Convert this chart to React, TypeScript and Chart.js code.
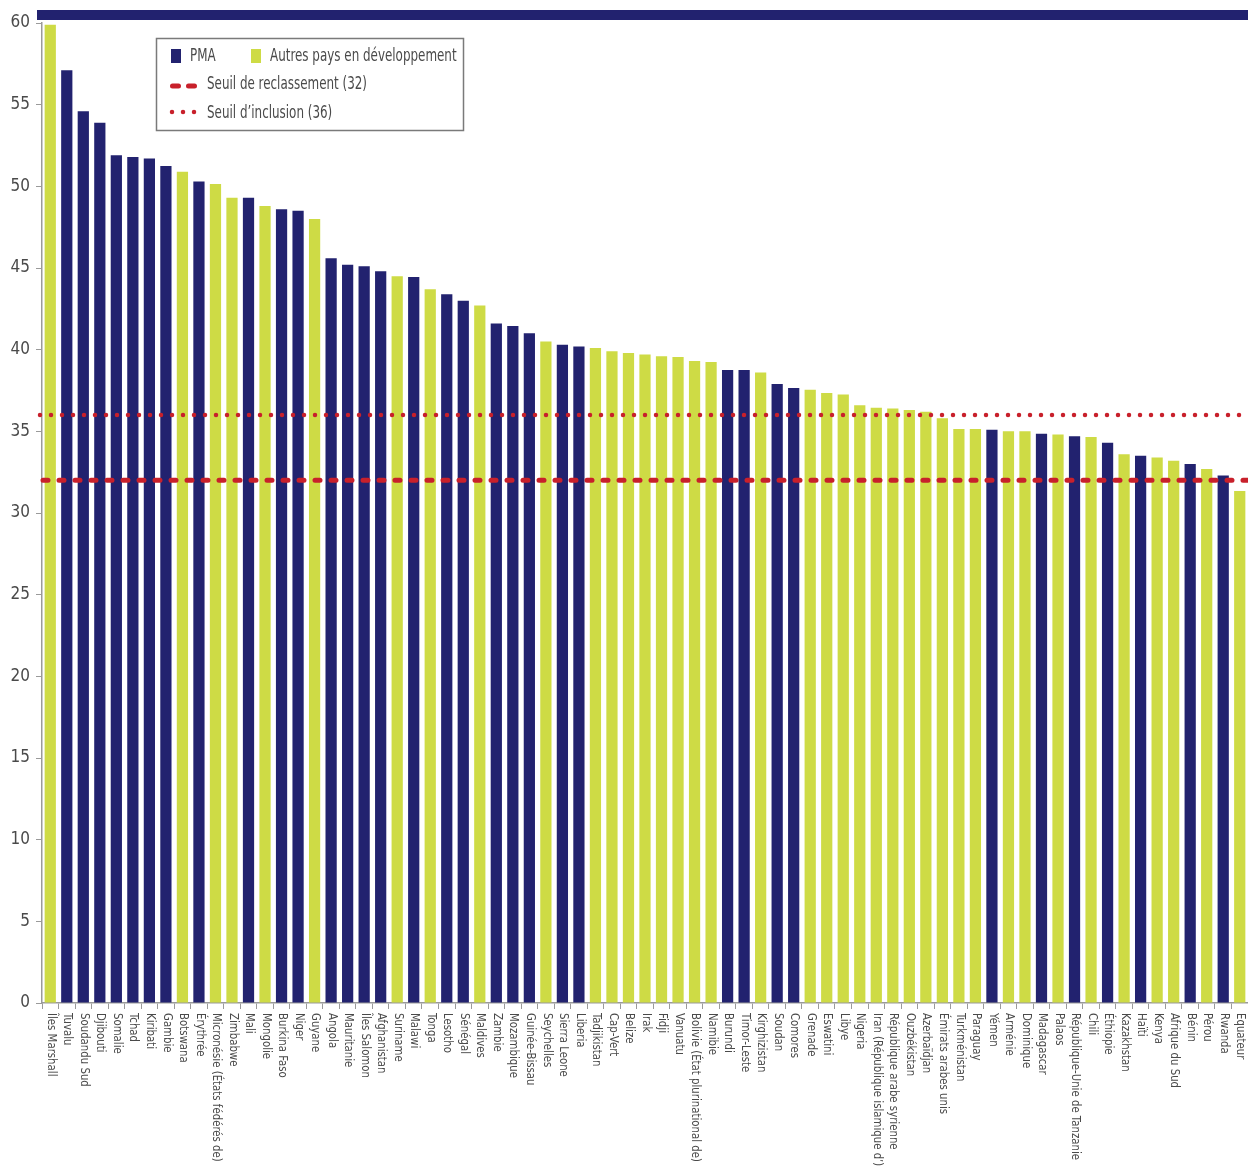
import React, { useEffect, useRef } from "react";
import { Chart, registerables } from "chart.js";

Chart.register(...registerables);

const countries: string[] = [
  "Îles Marshall", "Tuvalu", "Soudandu Sud", "Djibouti", "Somalie", "Tchad", "Kiribati", "Gambie",
  "Botswana", "Érythrée", "Micronésie (États fédérés de)", "Zimbabwe", "Mali", "Mongolie",
  "Burkina Faso", "Niger", "Guyane", "Angola", "Mauritanie", "Îles Salomon", "Afghanistan",
  "Suriname", "Malawi", "Tonga", "Lesotho", "Sénégal", "Maldives", "Zambie", "Mozambique",
  "Guinée-Bissau", "Seychelles", "Sierra Leone", "Liberia", "Tadjikistan", "Cap-Vert", "Belize",
  "Irak", "Fidji", "Vanuatu", "Bolivie (État plurinational de)", "Namibie", "Burundi",
  "Timor-Leste", "Kirghizistan", "Soudan", "Comores", "Grenade", "Eswatini", "Libye", "Nigeria",
  "Iran (République islamique d’)", "République arabe syrienne", "Ouzbékistan", "Azerbaïdjan",
  "Émirats arabes unis", "Turkménistan", "Paraguay", "Yémen", "Arménie", "Dominique",
  "Madagascar", "Palaos", "République-Unie de Tanzanie", "Chili", "Éthiopie", "Kazakhstan",
  "Haïti", "Kenya", "Afrique du Sud", "Bénin", "Pérou", "Rwanda", "Equateur",
];

const scores: number[] = [
  59.9, 57.1, 54.6, 53.9, 51.9, 51.8, 51.7, 51.25, 50.9, 50.3, 50.15, 49.3, 49.3, 48.8,
  48.6, 48.5, 48.0, 45.6, 45.2, 45.1, 44.8, 44.5, 44.45, 43.7, 43.4, 43.0, 42.7, 41.6, 41.45,
  41.0, 40.5, 40.3, 40.2, 40.1, 39.9, 39.8, 39.7, 39.6, 39.55, 39.3, 39.25, 38.75, 38.75, 38.6,
  37.9, 37.65, 37.55, 37.35, 37.25, 36.6, 36.45, 36.4, 36.3, 36.2, 35.8, 35.15, 35.15, 35.1,
  35.0, 35.0, 34.85, 34.8, 34.7, 34.65, 34.3, 33.6, 33.5, 33.4, 33.2, 33.0, 32.7, 32.3, 31.35,
];

// "P" = PMA, "A" = Autres pays en développement
const groups: string[] = [
  "A", "P", "P", "P", "P", "P", "P", "P", "A", "P", "A", "A", "P", "A",
  "P", "P", "A", "P", "P", "P", "P", "A", "P", "A", "P", "P", "A", "P", "P",
  "P", "A", "P", "P", "A", "A", "A", "A", "A", "A", "A", "A", "P", "P", "A",
  "P", "P", "A", "A", "A", "A", "A", "A", "A", "A", "A", "A", "A", "P",
  "A", "A", "P", "A", "P", "A", "P", "A", "P", "A", "A", "P", "A", "P", "A",
];

const yTicks: number[] = [0, 5, 10, 15, 20, 25, 30, 35, 40, 45, 50, 55, 60];
const graduationThreshold = 32;
const inclusionThreshold = 36;

const legendLabels = {
  pma: "PMA",
  others: "Autres pays en développement",
  graduation: "Seuil de reclassement (32)",
  inclusion: "Seuil d’inclusion (36)",
};

const NAVY = "#22226F";
const LIME = "#CEDB45";
const RED = "#C8202B";
const TEXT = "#4a4a4a";
const FONT = '"DejaVu Sans Condensed", "Liberation Sans Narrow", sans-serif';

function condensedText(ctx: CanvasRenderingContext2D, text: string, x: number, y: number, sx: number) {
  ctx.save();
  ctx.translate(x, y);
  ctx.scale(sx, 1);
  ctx.fillText(text, 0, 0);
  ctx.restore();
}

const overlayPlugin = {
  id: "overlay",
  beforeDraw(chart: any) {
    const { ctx, chartArea } = chart;
    ctx.save();
    ctx.fillStyle = NAVY;
    ctx.fillRect(chartArea.left - 5, chartArea.top - 13, chartArea.right - chartArea.left + 5, 10);
    ctx.restore();
  },
  afterDatasetsDraw(chart: any) {
    const { ctx, chartArea, scales } = chart;
    const y = scales.y;
    ctx.save();
    ctx.strokeStyle = RED;
    ctx.lineCap = "round";
    ctx.lineWidth = 4.5;
    ctx.setLineDash([0.01, 10.99]);
    const yi = y.getPixelForValue(inclusionThreshold);
    ctx.beginPath();
    ctx.moveTo(chartArea.left - 2, yi);
    ctx.lineTo(chartArea.right, yi);
    ctx.stroke();
    ctx.lineWidth = 5;
    ctx.setLineDash([5, 11]);
    const yg = y.getPixelForValue(graduationThreshold);
    ctx.beginPath();
    ctx.moveTo(chartArea.left + 1, yg);
    ctx.lineTo(chartArea.right, yg);
    ctx.stroke();
    ctx.restore();
  },
  afterDraw(chart: any) {
    const { ctx, chartArea, scales } = chart;
    const x = scales.x;
    ctx.save();
    ctx.font = `13px ${FONT}`;
    ctx.fillStyle = TEXT;
    ctx.textAlign = "left";
    ctx.textBaseline = "middle";
    countries.forEach((c, i) => {
      const px = x.getPixelForValue(i);
      ctx.save();
      ctx.translate(px + 1, chartArea.bottom + 10);
      ctx.rotate(Math.PI / 2);
      ctx.scale(0.87, 1);
      ctx.fillText(c, 0, 0);
      ctx.restore();
    });
    ctx.restore();

    // legend
    ctx.save();
    ctx.fillStyle = "#fff";
    ctx.fillRect(156.5, 38.5, 307, 92);
    ctx.strokeStyle = "#7a7a7a";
    ctx.lineWidth = 1.5;
    ctx.strokeRect(156.5, 38.5, 307, 92);
    ctx.fillStyle = NAVY;
    ctx.fillRect(171, 49, 10, 14);
    ctx.fillStyle = LIME;
    ctx.fillRect(251, 49, 10, 14);
    ctx.font = `17px ${FONT}`;
    ctx.fillStyle = TEXT;
    ctx.textBaseline = "middle";
    ctx.textAlign = "left";
    condensedText(ctx, legendLabels.pma, 190, 57, 0.78);
    condensedText(ctx, legendLabels.others, 270, 57, 0.78);
    condensedText(ctx, legendLabels.graduation, 207, 85, 0.78);
    condensedText(ctx, legendLabels.inclusion, 207, 114, 0.78);
    ctx.strokeStyle = RED;
    ctx.lineCap = "round";
    ctx.lineWidth = 5;
    ctx.setLineDash([6, 10]);
    ctx.beginPath();
    ctx.moveTo(172.5, 86);
    ctx.lineTo(195, 86);
    ctx.stroke();
    ctx.lineWidth = 4.5;
    ctx.setLineDash([0.01, 10.99]);
    ctx.beginPath();
    ctx.moveTo(172, 112);
    ctx.lineTo(196, 112);
    ctx.stroke();
    ctx.restore();
  },
};

export default function App() {
  const canvasRef = useRef<HTMLCanvasElement | null>(null);

  useEffect(() => {
    if (!canvasRef.current) return;
    const chart = new Chart(canvasRef.current, {
      type: "bar",
      data: {
        labels: countries,
        datasets: [
          {
            data: scores,
            backgroundColor: groups.map((g) => (g === "P" ? NAVY : LIME)),
            borderWidth: 0,
            barPercentage: 0.68,
            categoryPercentage: 1,
          },
        ],
      },
      options: {
        responsive: false,
        animation: false,
        events: [],
        layout: { padding: { top: 23, right: 0, bottom: 158, left: 0 } },
        plugins: { legend: { display: false }, tooltip: { enabled: false } },
        scales: {
          x: {
            offset: true,
            grid: { display: true, drawOnChartArea: false, drawTicks: true, tickLength: 6, color: "#9a9a9a", offset: true },
            border: { display: true, color: "#9a9a9a", width: 1.5 },
            ticks: { display: false },
            afterFit: (scale: any) => {
              scale.height = 6;
            },
          },
          y: {
            min: 0,
            max: 60,
            afterBuildTicks: (scale: any) => {
              scale.ticks = yTicks.map((v) => ({ value: v }));
            },
            grid: { display: true, drawOnChartArea: false, drawTicks: true, tickLength: 6, color: "#9a9a9a" },
            border: { display: true, color: "#9a9a9a", width: 1.5 },
            ticks: { font: { family: FONT, size: 17 }, color: TEXT, padding: 6 },
            afterFit: (scale: any) => {
              scale.width = 42;
            },
          },
        },
      },
      plugins: [overlayPlugin],
    });
    return () => chart.destroy();
  }, []);

  return (
    <div style={{ position: "absolute", left: 0, top: 0, width: 1248, height: 1167, background: "#fff" }}>
      <canvas ref={canvasRef} width={1248} height={1167} style={{ display: "block" }} />
    </div>
  );
}
